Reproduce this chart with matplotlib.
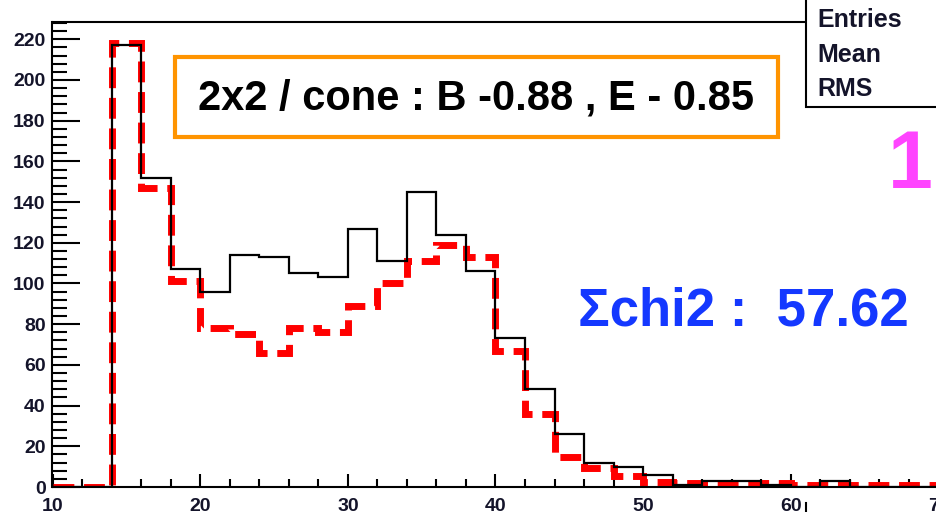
import matplotlib
matplotlib.use("Agg")
import matplotlib.pyplot as plt
from matplotlib.patches import Rectangle
from matplotlib.ticker import MultipleLocator
from matplotlib.lines import Line2D

plt.rcParams['font.family'] = ['Liberation Sans', 'DejaVu Sans']

# bin edges (width 2, from 10 to 70)
edges = list(range(10, 72, 2))

# solid black histogram
black_counts = [0, 0, 217, 152, 107, 96, 114, 113, 105, 103,
                127, 111, 145, 124, 106, 73, 48, 26, 12, 10,
                6, 1, 3, 3, 1, 0, 3, 0, 0, 0]

# red dashed histogram
red_counts = [0, 0, 218, 147, 101, 78, 75, 66, 78, 76,
              89, 100, 111, 119, 113, 67, 36, 14.5, 9.5, 5.2,
              2.5, 2, 2, 2, 2, 1, 1, 1, 1, 1]

box_label = "2x2 / cone : B -0.88 , E - 0.85"
chi_label = "\u03a3chi2 :  57.62"
stats_rows = ["Entries", "Mean", "RMS"]

W, H = 937, 512


def fx(x):
    return x / W


def fy(y):
    return 1 - y / H


fig = plt.figure(figsize=(W / 100, H / 100), dpi=100)
ax = fig.add_axes([fx(52.5), fy(487), (938.5 - 52.5) / W, (487 - 22) / H])

ax.stairs(red_counts, edges, color='#ff0000', linewidth=5, linestyle=(0, (3, 1.4)), zorder=2)
ax.stairs(black_counts, edges, color='black', linewidth=1.6, zorder=3)

ax.set_xlim(10, 70)
ax.set_ylim(0, 228.5)

ax.xaxis.set_major_locator(MultipleLocator(10))
ax.xaxis.set_minor_locator(MultipleLocator(2))
ax.yaxis.set_major_locator(MultipleLocator(20))
ax.yaxis.set_minor_locator(MultipleLocator(4))

ax.tick_params(axis='y', which='major', direction='in', length=20, width=1.5, pad=5,
               labelsize=14)
ax.tick_params(axis='y', which='minor', direction='in', length=11, width=1.5)
ax.tick_params(axis='x', which='major', direction='in', length=9.5, width=1.5, pad=8,
               labelsize=14)
ax.tick_params(axis='x', which='minor', direction='in', length=5.8, width=1.5)
for lab in ax.get_xticklabels() + ax.get_yticklabels():
    lab.set_fontweight('bold')
    lab.set_color('#14142a')

for sp in ax.spines.values():
    sp.set_linewidth(1.5)

# stats box, top right (partly outside the picture)
fig.patches.append(Rectangle((fx(806), fy(107)), 0.3, 0.3, transform=fig.transFigure,
                             facecolor='white', edgecolor='black', linewidth=1.5, zorder=5))
for row, y in zip(stats_rows, [20, 55, 89]):
    fig.text(fx(817), fy(y), row, fontsize=18, fontweight='bold', ha='left', va='center',
             color='#14142a', zorder=6)

# orange label box
fig.patches.append(Rectangle((fx(175), fy(137)), (778 - 175) / W, (137 - 57) / H,
                             transform=fig.transFigure, facecolor='white',
                             edgecolor='#ff9400', linewidth=3, zorder=5))
fig.text(fx(476), fy(98), box_label, fontsize=30, fontweight='bold', ha='center',
         va='center', color='black', zorder=6)

fig.text(fx(743), fy(312), chi_label, fontsize=38, fontweight='bold', ha='center',
         va='center', color='#1438ff', zorder=6)

fig.text(fx(910), fy(167), "1", fontsize=58, fontweight='bold', ha='center',
         va='center', color='#ff44ff', zorder=6)

# piece of a box cut by the lower edge
fig.lines.append(Line2D([fx(806), fx(806)], [fy(503), fy(512)], transform=fig.transFigure,
                        color='black', linewidth=1.5))

fig.savefig("out.png", dpi=100, facecolor='white')
